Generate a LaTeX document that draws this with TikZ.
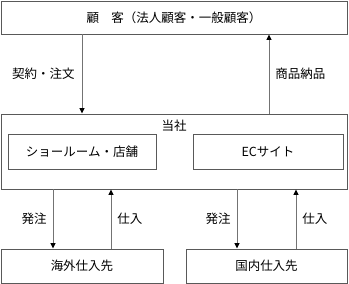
\documentclass[tikz,border=0pt]{standalone}
\usepackage{fontspec}
\setmainfont{Noto Sans CJK JP}
\usepackage{tikz}
\usetikzlibrary{arrows.meta,positioning,calc}
\tikzset{
  partybox/.style={draw=black!65,line width=0.9pt,inner sep=0pt,align=center},
  flowarrow/.style={-{Triangle[length=5.5pt,width=5pt,color=black]},draw=black!55,line width=0.9pt},
  flowlabel/.style={inner sep=0pt}
}

\begin{document}
\begin{tikzpicture}[x=1pt,y=-1pt,font=\fontsize{12.5}{14}\selectfont]
  \useasboundingbox (0,0) rectangle (349,284);
  % top and middle
  \node[partybox,minimum width=346pt,minimum height=33pt] (cust) at (174,17.5) {顧　客（法人顧客・一般顧客）};
  \node[partybox,minimum width=346pt,minimum height=75pt] (corp) at (174,151.5) {};
  \node[flowlabel,below=6pt of corp.north] (corpname) {当社};
  \node[partybox,minimum width=148pt,minimum height=35pt] (shop) at (82,151.5) {ショールーム・店舗};
  \node[partybox,minimum width=150pt,minimum height=35pt] (ec) at (268,151.5) {ECサイト};
  % suppliers
  \node[partybox,minimum width=162pt,minimum height=34pt] (abroad) at (82,266) {海外仕入先};
  \node[partybox,minimum width=161pt,minimum height=34pt] (domestic) at (266.5,266) {国内仕入先};

  \draw[flowarrow] (82,0 |- cust.south) -- node[flowlabel,left=7pt] {契約・注文} (82,0 |- corp.north);
  \draw[flowarrow] (269,0 |- corp.north) -- node[flowlabel,right=6pt] {商品納品} (269,0 |- cust.south);
  \draw[flowarrow] (53,0 |- corp.south) -- node[flowlabel,left=6pt] {発注} (53,0 |- abroad.north);
  \draw[flowarrow] (111,0 |- abroad.north) -- node[flowlabel,right=6pt] {仕入} (111,0 |- corp.south);
  \draw[flowarrow] (237,0 |- corp.south) -- node[flowlabel,left=6pt] {発注} (237,0 |- domestic.north);
  \draw[flowarrow] (296,0 |- domestic.north) -- node[flowlabel,right=6pt] {仕入} (296,0 |- corp.south);
\end{tikzpicture}
\end{document}
